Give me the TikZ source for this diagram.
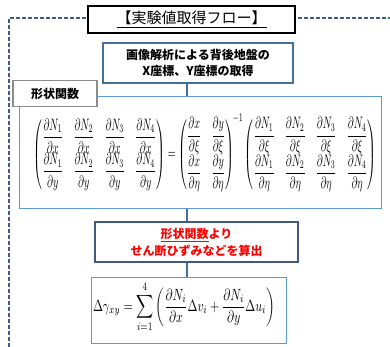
\documentclass[tikz,border=0pt]{standalone}
\usepackage{amsmath}
\usepackage{graphicx}
\usepackage{fontspec}
\newfontfamily\jp{Noto Sans CJK JP}
\definecolor{frameC}{HTML}{3E5C85}
\definecolor{boxB}{HTML}{41719C}
\definecolor{boxL}{HTML}{5B9BD5}
\definecolor{boxD}{HTML}{3F5A7A}
\definecolor{grayB}{HTML}{8C8C8C}
\begin{document}
\begin{tikzpicture}[x=1pt,y=-1pt,
  conn/.style={draw=boxB,line width=1.2pt},
  lightbox/.style={draw=boxL,line width=0.9pt,fill=white},
  txt/.style={inner sep=0pt,align=center}]
\useasboundingbox (0,0) rectangle (390,347);
% dashed frame
\draw[frameC,line width=1.3pt,dash pattern=on 4pt off 2pt] (392,18) -- (9,18) -- (9,349);
% connector line
\coordinate (top) at (187,83);
\coordinate (bot) at (187,277);
\draw[conn] (top) -- (bot);
% title
\node[draw=black,line width=1.2pt,fill=white,minimum width=207pt,minimum height=27pt,inner sep=0pt,font=\jp\fontsize{15pt}{16pt}\selectfont] (title) at (191.5,19.5) {\underline{【実験値取得フロー】}};
% box2
\node[draw=boxB,line width=1.6pt,fill=white,minimum width=190pt,minimum height=40pt,inner sep=0pt,align=center,font=\jp\bfseries\fontsize{12pt}{16pt}\selectfont] (b2) at (198,63) {画像解析による背後地盤の\\X座標、Y座標の取得};
% big box
\node[lightbox,minimum width=362pt,minimum height=112pt,inner sep=0pt] (big) at (200,152) {};
\node[txt] (mat) at (205,153) {\resizebox*{343pt}{78pt}{$\displaystyle
\begin{pmatrix}
\dfrac{\partial N_1}{\partial x} & \dfrac{\partial N_2}{\partial x} & \dfrac{\partial N_3}{\partial x} & \dfrac{\partial N_4}{\partial x}\\[1pt]
\dfrac{\partial N_1}{\partial y} & \dfrac{\partial N_2}{\partial y} & \dfrac{\partial N_3}{\partial y} & \dfrac{\partial N_4}{\partial y}
\end{pmatrix}
=
\begin{pmatrix}
\dfrac{\partial x}{\partial \xi} & \dfrac{\partial y}{\partial \xi}\\[1pt]
\dfrac{\partial x}{\partial \eta} & \dfrac{\partial y}{\partial \eta}
\end{pmatrix}^{\!-1}
\begin{pmatrix}
\dfrac{\partial N_1}{\partial \xi} & \dfrac{\partial N_2}{\partial \xi} & \dfrac{\partial N_3}{\partial \xi} & \dfrac{\partial N_4}{\partial \xi}\\[1pt]
\dfrac{\partial N_1}{\partial \eta} & \dfrac{\partial N_2}{\partial \eta} & \dfrac{\partial N_3}{\partial \eta} & \dfrac{\partial N_4}{\partial \eta}
\end{pmatrix}$}};
% shape function label
\node[draw=grayB,line width=1.2pt,fill=white,minimum width=84pt,minimum height=26pt,inner sep=0pt,font=\jp\bfseries\fontsize{12pt}{14pt}\selectfont] (lab) at (55,93.5) {形状関数};
% box4
\node[draw=boxD,line width=1.6pt,fill=white,minimum width=203pt,minimum height=40pt,inner sep=0pt,align=center,text=red,font=\jp\bfseries\fontsize{12pt}{17pt}\selectfont] (b4) at (196.5,242) {\underline{形状関数}より\\せん断ひずみなどを算出};
% box5
\node[lightbox,minimum width=195pt,minimum height=66pt,inner sep=0pt] (b5) at (188.5,310) {};
\node[txt] (f) at (184,307) {\resizebox*{182pt}{50pt}{$\displaystyle \Delta\gamma_{xy}=\sum_{i=1}^{4}\left(\frac{\partial N_i}{\partial x}\Delta v_i+\frac{\partial N_i}{\partial y}\Delta u_i\right)$}};
\end{tikzpicture}
\end{document}
